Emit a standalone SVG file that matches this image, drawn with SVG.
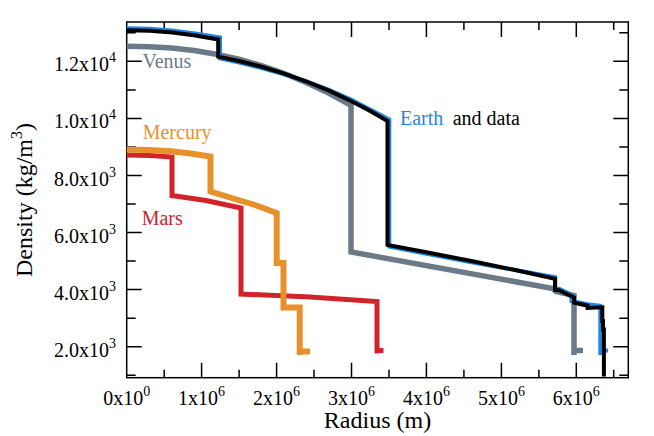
<svg xmlns="http://www.w3.org/2000/svg" width="654" height="436" viewBox="0 0 654 436">
<style>
text{font-family:"Liberation Serif","Times New Roman",serif;font-size:20px;fill:#000}
.tk{stroke:#000;stroke-width:1.5;fill:none}
.sup{font-size:14px}
.c{fill:none;stroke-linejoin:miter;stroke-linecap:butt}
.venus{stroke:#6b7a88;stroke-width:5.5}
.merc{stroke:#e8902c;stroke-width:6}
.mars{stroke:#d2232a;stroke-width:5}
.eblue{stroke:#1e88e5;stroke-width:4}
.eblack{stroke:#000;stroke-width:4}
</style>
<rect width="654" height="436" fill="#fff"/>
<g id="axes">
<rect x="126.7" y="22" width="501.6" height="355.7" class="tk"/>
<path class="tk" d="M201.6 377.7V362.7M276.6 377.7V362.7M351.5 377.7V362.7M426.4 377.7V362.7M501.4 377.7V362.7M576.3 377.7V362.7
M164.2 377.7V369.7M239.1 377.7V369.7M314 377.7V369.7M389 377.7V369.7M463.9 377.7V369.7M538.9 377.7V369.7M613.7 377.7V369.7
M201.6 22V37M276.6 22V37M351.5 22V37M426.4 22V37M501.4 22V37M576.3 22V37
M164.2 22V30M239.1 22V30M314 22V30M389 22V30M463.9 22V30M538.9 22V30M613.7 22V30
M126.7 346.7H141.7M126.7 289.6H141.7M126.7 232.6H141.7M126.7 175.5H141.7M126.7 118.4H141.7M126.7 61.3H141.7
M126.7 375.3H135.7M126.7 318.2H135.7M126.7 261.1H135.7M126.7 204H135.7M126.7 147H135.7M126.7 89.9H135.7M126.7 32.8H135.7
M628.3 346.7H613.3M628.3 289.6H613.3M628.3 232.6H613.3M628.3 175.5H613.3M628.3 118.4H613.3M628.3 61.3H613.3
M628.3 375.3H619.3M628.3 318.2H619.3M628.3 261.1H619.3M628.3 204H619.3M628.3 147H619.3M628.3 89.9H619.3M628.3 32.8H619.3"/>
<g text-anchor="end">
<text x="116" y="356.7">2.0x10<tspan class="sup" dy="-9">3</tspan></text>
<text x="116" y="299.6">4.0x10<tspan class="sup" dy="-9">3</tspan></text>
<text x="116" y="242.6">6.0x10<tspan class="sup" dy="-9">3</tspan></text>
<text x="116" y="185.5">8.0x10<tspan class="sup" dy="-9">3</tspan></text>
<text x="116" y="128.4">1.0x10<tspan class="sup" dy="-9">4</tspan></text>
<text x="116" y="71.3">1.2x10<tspan class="sup" dy="-9">4</tspan></text>
</g>
<g text-anchor="middle">
<text x="126.7" y="405">0x10<tspan class="sup" dy="-9">0</tspan></text>
<text x="201.6" y="405">1x10<tspan class="sup" dy="-9">6</tspan></text>
<text x="276.6" y="405">2x10<tspan class="sup" dy="-9">6</tspan></text>
<text x="351.5" y="405">3x10<tspan class="sup" dy="-9">6</tspan></text>
<text x="426.4" y="405">4x10<tspan class="sup" dy="-9">6</tspan></text>
<text x="501.4" y="405">5x10<tspan class="sup" dy="-9">6</tspan></text>
<text x="576.3" y="405">6x10<tspan class="sup" dy="-9">6</tspan></text>
<text x="377.5" y="428" style="font-size:24px">Radius (m)</text>
<text transform="translate(32,200) rotate(-90)" style="font-size:24px">Density (kg/m<tspan style="font-size:16px" dy="-10">3</tspan><tspan dy="10">)</tspan></text>
</g>
</g>
<g id="venus">
<path class="c venus" d="M126.7 46.3L149.1 46.7L171.6 48L194 50.5L216.4 54.2L238.9 59.1L261.3 65.5L283.7 73.2L306.1 82.4L328.6 93.1L351 105.3V252L553 288.5L556 291.5L574 295.5V355M574 350.5H583"/>
<text x="142.5" y="68" style="fill:#6b7a88">Venus</text>
</g>
<g id="earth">
<path class="c eblue" d="M126.7 28.3L149.6 28.8L172.5 30.6L195.3 33.5L220 37.5V58.3L239.1 62.5L261.6 68L284.1 74.2L306.5 81.5L329 89.9L351.5 99.8L370.2 109.5L389.3 119.4V246.6L426.4 253.9L471.4 262.3L516.3 270.3L555.3 277.2V288.4L559.1 288.8L571.5 294.7V301L587.6 304.2L600.3 305.8V355M600.3 350.5H608"/>
<path class="c eblack" d="M126.7 30.3L149.6 30.8L172.5 32.6L195.3 35.5L218.2 39.5V56.6L239.1 61L261.6 66.8L284.1 73.6L306.5 81.5L329 90.7L351.5 101.2L370.2 111.1L387.5 121.1V244.9L426.4 252.3L471.4 261L516.3 270.3L555 278.8V289.9L559.1 290.3L574.1 297.5V302.7L587.6 305.7V307.9L602.3 307.3V321H603V329.6H603.9V376.5"/>
<text x="400" y="125" style="fill:#1e88e5">Earth</text>
<text x="452.7" y="125">and data</text>
</g>
<g id="mars">
<path class="c mars" d="M126.7 155L150 155.6L172 157V195.5L206 200.5L241 208V294L310 297L377 301.5V353.5M377 350.5H383.5"/>
<text x="141.7" y="225" style="fill:#d2232a">Mars</text>
</g>
<g id="mercury">
<path class="c merc" d="M126.7 149.5L147 149.9L168 151L189 153.2L210.5 156.5V191.5L230 197.5L255 205L276.7 213V263H283.5V307.5H299.7V355M299.7 351.5H310"/>
<text x="142.7" y="139.3" style="fill:#e8902c">Mercury</text>
</g>
</svg>
